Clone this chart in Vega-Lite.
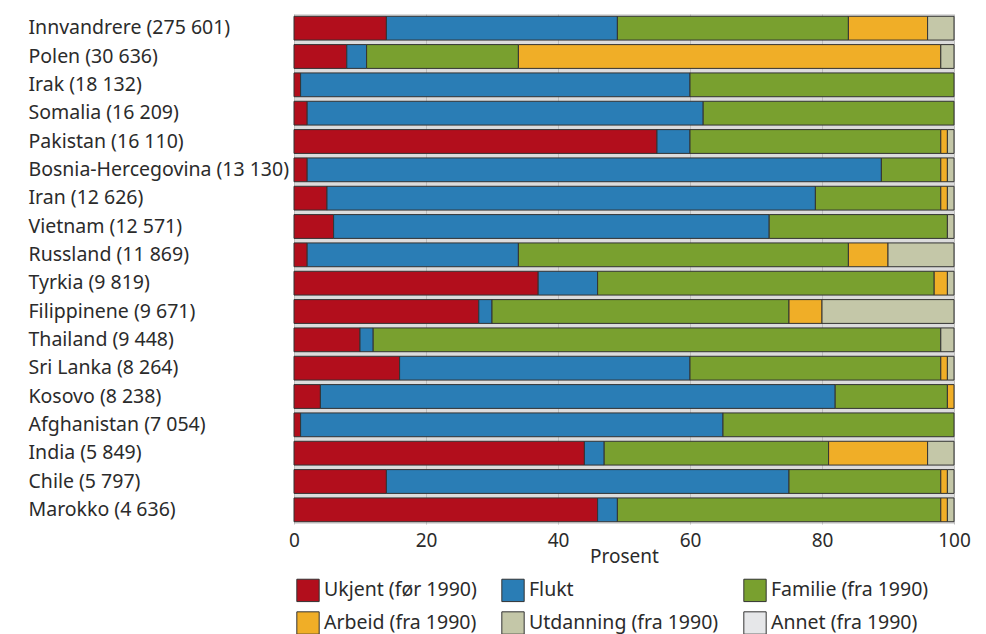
{
  "$schema": "https://vega.github.io/schema/vega-lite/v6.json",
  "width": 660,
  "height": 510,
  "autosize": {"type": "none"},
  "padding": {"left": 294, "top": 14, "right": 32, "bottom": 110},
  "background": "white",
  "config": {
    "font": "Noto Sans",
    "view": {"stroke": null, "fill": "#dcdcdc"},
    "axis": {"labelFont": "Noto Sans", "titleFont": "Noto Sans", "labelColor": "#2b2b2b", "titleColor": "#2b2b2b"},
    "legend": {"labelFont": "Noto Sans"}
  },
  "data": {"values": [
    {"land": "Innvandrere (275 601)", "nr": 1, "grunn": "Ukjent (før 1990)", "pst": 14},
    {"land": "Innvandrere (275 601)", "nr": 2, "grunn": "Flukt", "pst": 35},
    {"land": "Innvandrere (275 601)", "nr": 3, "grunn": "Familie (fra 1990)", "pst": 35},
    {"land": "Innvandrere (275 601)", "nr": 4, "grunn": "Arbeid (fra 1990)", "pst": 12},
    {"land": "Innvandrere (275 601)", "nr": 5, "grunn": "Utdanning (fra 1990)", "pst": 4},
    {"land": "Polen (30 636)", "nr": 1, "grunn": "Ukjent (før 1990)", "pst": 8},
    {"land": "Polen (30 636)", "nr": 2, "grunn": "Flukt", "pst": 3},
    {"land": "Polen (30 636)", "nr": 3, "grunn": "Familie (fra 1990)", "pst": 23},
    {"land": "Polen (30 636)", "nr": 4, "grunn": "Arbeid (fra 1990)", "pst": 64},
    {"land": "Polen (30 636)", "nr": 5, "grunn": "Utdanning (fra 1990)", "pst": 2},
    {"land": "Irak (18 132)", "nr": 1, "grunn": "Ukjent (før 1990)", "pst": 1},
    {"land": "Irak (18 132)", "nr": 2, "grunn": "Flukt", "pst": 59},
    {"land": "Irak (18 132)", "nr": 3, "grunn": "Familie (fra 1990)", "pst": 40},
    {"land": "Somalia (16 209)", "nr": 1, "grunn": "Ukjent (før 1990)", "pst": 2},
    {"land": "Somalia (16 209)", "nr": 2, "grunn": "Flukt", "pst": 60},
    {"land": "Somalia (16 209)", "nr": 3, "grunn": "Familie (fra 1990)", "pst": 38},
    {"land": "Pakistan (16 110)", "nr": 1, "grunn": "Ukjent (før 1990)", "pst": 55},
    {"land": "Pakistan (16 110)", "nr": 2, "grunn": "Flukt", "pst": 5},
    {"land": "Pakistan (16 110)", "nr": 3, "grunn": "Familie (fra 1990)", "pst": 38},
    {"land": "Pakistan (16 110)", "nr": 4, "grunn": "Arbeid (fra 1990)", "pst": 1},
    {"land": "Pakistan (16 110)", "nr": 5, "grunn": "Utdanning (fra 1990)", "pst": 1},
    {"land": "Bosnia-Hercegovina (13 130)", "nr": 1, "grunn": "Ukjent (før 1990)", "pst": 2},
    {"land": "Bosnia-Hercegovina (13 130)", "nr": 2, "grunn": "Flukt", "pst": 87},
    {"land": "Bosnia-Hercegovina (13 130)", "nr": 3, "grunn": "Familie (fra 1990)", "pst": 9},
    {"land": "Bosnia-Hercegovina (13 130)", "nr": 4, "grunn": "Arbeid (fra 1990)", "pst": 1},
    {"land": "Bosnia-Hercegovina (13 130)", "nr": 5, "grunn": "Utdanning (fra 1990)", "pst": 1},
    {"land": "Iran (12 626)", "nr": 1, "grunn": "Ukjent (før 1990)", "pst": 5},
    {"land": "Iran (12 626)", "nr": 2, "grunn": "Flukt", "pst": 74},
    {"land": "Iran (12 626)", "nr": 3, "grunn": "Familie (fra 1990)", "pst": 19},
    {"land": "Iran (12 626)", "nr": 4, "grunn": "Arbeid (fra 1990)", "pst": 1},
    {"land": "Iran (12 626)", "nr": 5, "grunn": "Utdanning (fra 1990)", "pst": 1},
    {"land": "Vietnam (12 571)", "nr": 1, "grunn": "Ukjent (før 1990)", "pst": 6},
    {"land": "Vietnam (12 571)", "nr": 2, "grunn": "Flukt", "pst": 66},
    {"land": "Vietnam (12 571)", "nr": 3, "grunn": "Familie (fra 1990)", "pst": 27},
    {"land": "Vietnam (12 571)", "nr": 5, "grunn": "Utdanning (fra 1990)", "pst": 1},
    {"land": "Russland (11 869)", "nr": 1, "grunn": "Ukjent (før 1990)", "pst": 2},
    {"land": "Russland (11 869)", "nr": 2, "grunn": "Flukt", "pst": 32},
    {"land": "Russland (11 869)", "nr": 3, "grunn": "Familie (fra 1990)", "pst": 50},
    {"land": "Russland (11 869)", "nr": 4, "grunn": "Arbeid (fra 1990)", "pst": 6},
    {"land": "Russland (11 869)", "nr": 5, "grunn": "Utdanning (fra 1990)", "pst": 10},
    {"land": "Tyrkia (9 819)", "nr": 1, "grunn": "Ukjent (før 1990)", "pst": 37},
    {"land": "Tyrkia (9 819)", "nr": 2, "grunn": "Flukt", "pst": 9},
    {"land": "Tyrkia (9 819)", "nr": 3, "grunn": "Familie (fra 1990)", "pst": 51},
    {"land": "Tyrkia (9 819)", "nr": 4, "grunn": "Arbeid (fra 1990)", "pst": 2},
    {"land": "Tyrkia (9 819)", "nr": 5, "grunn": "Utdanning (fra 1990)", "pst": 1},
    {"land": "Filippinene (9 671)", "nr": 1, "grunn": "Ukjent (før 1990)", "pst": 28},
    {"land": "Filippinene (9 671)", "nr": 2, "grunn": "Flukt", "pst": 2},
    {"land": "Filippinene (9 671)", "nr": 3, "grunn": "Familie (fra 1990)", "pst": 45},
    {"land": "Filippinene (9 671)", "nr": 4, "grunn": "Arbeid (fra 1990)", "pst": 5},
    {"land": "Filippinene (9 671)", "nr": 5, "grunn": "Utdanning (fra 1990)", "pst": 20},
    {"land": "Thailand (9 448)", "nr": 1, "grunn": "Ukjent (før 1990)", "pst": 10},
    {"land": "Thailand (9 448)", "nr": 2, "grunn": "Flukt", "pst": 2},
    {"land": "Thailand (9 448)", "nr": 3, "grunn": "Familie (fra 1990)", "pst": 86},
    {"land": "Thailand (9 448)", "nr": 5, "grunn": "Utdanning (fra 1990)", "pst": 2},
    {"land": "Sri Lanka (8 264)", "nr": 1, "grunn": "Ukjent (før 1990)", "pst": 16},
    {"land": "Sri Lanka (8 264)", "nr": 2, "grunn": "Flukt", "pst": 44},
    {"land": "Sri Lanka (8 264)", "nr": 3, "grunn": "Familie (fra 1990)", "pst": 38},
    {"land": "Sri Lanka (8 264)", "nr": 4, "grunn": "Arbeid (fra 1990)", "pst": 1},
    {"land": "Sri Lanka (8 264)", "nr": 5, "grunn": "Utdanning (fra 1990)", "pst": 1},
    {"land": "Kosovo (8 238)", "nr": 1, "grunn": "Ukjent (før 1990)", "pst": 4},
    {"land": "Kosovo (8 238)", "nr": 2, "grunn": "Flukt", "pst": 78},
    {"land": "Kosovo (8 238)", "nr": 3, "grunn": "Familie (fra 1990)", "pst": 17},
    {"land": "Kosovo (8 238)", "nr": 4, "grunn": "Arbeid (fra 1990)", "pst": 1},
    {"land": "Afghanistan (7 054)", "nr": 1, "grunn": "Ukjent (før 1990)", "pst": 1},
    {"land": "Afghanistan (7 054)", "nr": 2, "grunn": "Flukt", "pst": 64},
    {"land": "Afghanistan (7 054)", "nr": 3, "grunn": "Familie (fra 1990)", "pst": 35},
    {"land": "India (5 849)", "nr": 1, "grunn": "Ukjent (før 1990)", "pst": 44},
    {"land": "India (5 849)", "nr": 2, "grunn": "Flukt", "pst": 3},
    {"land": "India (5 849)", "nr": 3, "grunn": "Familie (fra 1990)", "pst": 34},
    {"land": "India (5 849)", "nr": 4, "grunn": "Arbeid (fra 1990)", "pst": 15},
    {"land": "India (5 849)", "nr": 5, "grunn": "Utdanning (fra 1990)", "pst": 4},
    {"land": "Chile (5 797)", "nr": 1, "grunn": "Ukjent (før 1990)", "pst": 14},
    {"land": "Chile (5 797)", "nr": 2, "grunn": "Flukt", "pst": 61},
    {"land": "Chile (5 797)", "nr": 3, "grunn": "Familie (fra 1990)", "pst": 23},
    {"land": "Chile (5 797)", "nr": 4, "grunn": "Arbeid (fra 1990)", "pst": 1},
    {"land": "Chile (5 797)", "nr": 5, "grunn": "Utdanning (fra 1990)", "pst": 1},
    {"land": "Marokko (4 636)", "nr": 1, "grunn": "Ukjent (før 1990)", "pst": 46},
    {"land": "Marokko (4 636)", "nr": 2, "grunn": "Flukt", "pst": 3},
    {"land": "Marokko (4 636)", "nr": 3, "grunn": "Familie (fra 1990)", "pst": 49},
    {"land": "Marokko (4 636)", "nr": 4, "grunn": "Arbeid (fra 1990)", "pst": 1},
    {"land": "Marokko (4 636)", "nr": 5, "grunn": "Utdanning (fra 1990)", "pst": 1}
  ]},
  "mark": {"type": "bar", "stroke": "#333333", "strokeWidth": 1},
  "encoding": {
    "y": {
      "field": "land", "type": "nominal", "sort": null,
      "scale": {"paddingInner": 0.16, "paddingOuter": 0.08},
      "axis": {"title": null, "ticks": false, "domain": false, "labelAlign": "left", "labelPadding": 266, "labelLimit": 400, "labelFontSize": 19.5}
    },
    "x": {
      "field": "pst", "type": "quantitative", "stack": "zero",
      "scale": {"domain": [0, 100], "nice": false},
      "axis": {"title": "Prosent", "values": [0, 20, 40, 60, 80, 100], "ticks": false, "domain": false, "grid": true, "gridColor": "#bdbdbd", "gridWidth": 1, "labelFontSize": 19, "titleFontSize": 19, "titleFontWeight": "normal", "labelPadding": 7, "titlePadding": -3, "labelFlush": false}
    },
    "color": {
      "field": "grunn", "type": "nominal",
      "sort": ["Ukjent (før 1990)", "Flukt", "Familie (fra 1990)", "Arbeid (fra 1990)", "Utdanning (fra 1990)", "Annet (fra 1990)"],
      "scale": {
        "domain": ["Ukjent (før 1990)", "Flukt", "Familie (fra 1990)", "Arbeid (fra 1990)", "Utdanning (fra 1990)", "Annet (fra 1990)"],
        "range": ["#b20e1c", "#2a7db5", "#79a02f", "#f0ae27", "#c4c7a8", "#e6e7e9"]
      },
      "legend": {
        "title": null, "orient": "none", "legendX": 2, "legendY": 564, "columns": 3, "direction": "horizontal",
        "symbolType": "square", "symbolSize": 500, "symbolStrokeColor": "#333333", "symbolStrokeWidth": 1, "symbolOpacity": 1,
        "labelFontSize": 19.5, "labelColor": "#2b2b2b", "labelOffset": 4, "columnPadding": 22, "rowPadding": 5, "padding": 0, "labelLimit": 300
      }
    },
    "order": {"field": "nr", "type": "quantitative"}
  }
}
